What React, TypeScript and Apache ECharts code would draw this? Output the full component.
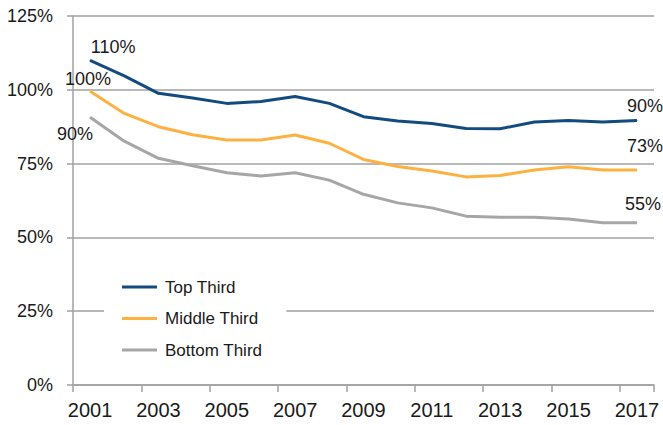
import React, { useEffect, useRef } from "react";
import * as echarts from "echarts";

const years = ["2001","2002","2003","2004","2005","2006","2007","2008","2009","2010","2011","2012","2013","2014","2015","2016","2017"];
const topThird = [110, 104.7, 98.8, 97.2, 95.4, 96.0, 97.7, 95.4, 90.9, 89.4, 88.6, 86.9, 86.8, 89.1, 89.6, 89.1, 89.6];
const middleThird = [99.5, 92.0, 87.5, 84.8, 83.0, 83.0, 84.7, 81.9, 76.4, 74.0, 72.5, 70.5, 71.0, 72.8, 73.9, 72.8, 72.8];
const bottomThird = [90.7, 82.6, 76.8, 74.3, 71.9, 70.8, 71.9, 69.4, 64.6, 61.7, 60.0, 57.2, 56.8, 56.8, 56.2, 55.0, 55.0];
const firstLabels = ["110%", "100%", "90%"];
const lastLabels = ["90%", "73%", "55%"];
const seriesNames = ["Top Third", "Middle Third", "Bottom Third"];
const colors = ["#134b7f", "#fdb140", "#a6a6a6"];

const firstLabelStyle = [
  { position: "top", offset: [23, 1] },
  { position: "top", offset: [-2, 2] },
  { position: "bottom", offset: [-15, 2] },
];
const lastLabelStyle = [
  { position: "top", offset: [8, 0] },
  { position: "top", offset: [8, -10] },
  { position: "top", offset: [6, -4] },
];

export default function App() {
  const ref = useRef<HTMLDivElement>(null);
  useEffect(() => {
    if (!ref.current) return;
    const chart = echarts.init(ref.current, null, { renderer: "svg" });
    const all = [topThird, middleThird, bottomThird];
    const labelText = {
      color: "#1a1a1a",
      fontSize: 18,
      fontFamily: "'Liberation Sans', Arial, sans-serif",
    };
    const series = all.map((vals, si) => ({
      name: seriesNames[si],
      type: "line",
      symbol: "circle",
      symbolSize: 1,
      showSymbol: true,
      itemStyle: { color: colors[si] },
      lineStyle: { color: colors[si], width: 3 },
      data: vals.map((v, i) => {
        if (i === 0) {
          return { value: v, label: { show: true, formatter: firstLabels[si], ...labelText, ...firstLabelStyle[si] } };
        }
        if (i === vals.length - 1) {
          return { value: v, label: { show: true, formatter: lastLabels[si], ...labelText, ...lastLabelStyle[si] } };
        }
        return { value: v };
      }),
    }));
    chart.setOption({
      animation: false,
      backgroundColor: "#ffffff",
      grid: { left: 73, right: 9, top: 16, bottom: 40, containLabel: false },
      legend: {
        orient: "vertical",
        left: 104,
        top: 262,
        icon: "rect",
        itemWidth: 35,
        itemHeight: 3,
        itemGap: 11.5,
        padding: [15, 24, 10, 18],
        backgroundColor: "#ffffff",
        data: seriesNames,
        textStyle: {
          color: "#1a1a1a",
          fontSize: 17,
          lineHeight: 20,
          padding: [0, 0, 0, 3],
          fontFamily: "'Liberation Sans', Arial, sans-serif",
        },
      },
      xAxis: {
        type: "category",
        data: years,
        boundaryGap: true,
        axisLine: { show: true, lineStyle: { color: "#a0a0a0", width: 1.5 } },
        axisTick: { show: true, interval: 1, length: 7, lineStyle: { color: "#a0a0a0", width: 1.5 } },
        axisLabel: {
          interval: 1,
          margin: 15,
          color: "#1a1a1a",
          fontSize: 20,
          fontFamily: "'Liberation Sans', Arial, sans-serif",
        },
        splitLine: { show: false },
      },
      yAxis: {
        type: "value",
        min: 0,
        max: 125,
        interval: 25,
        axisLine: { show: true, lineStyle: { color: "#a0a0a0", width: 1.5 } },
        axisTick: { show: true, length: 6, lineStyle: { color: "#a0a0a0", width: 1.5 } },
        axisLabel: {
          formatter: "{value}%",
          margin: 20,
          color: "#1a1a1a",
          fontSize: 18,
          fontFamily: "'Liberation Sans', Arial, sans-serif",
        },
        splitLine: { show: true, lineStyle: { color: "#a0a0a0", width: 1.5 } },
      },
      series,
    });
    return () => chart.dispose();
  }, []);
  return <div ref={ref} style={{ width: 663, height: 425, position: "fixed", left: 0, top: 0 }} />;
}
